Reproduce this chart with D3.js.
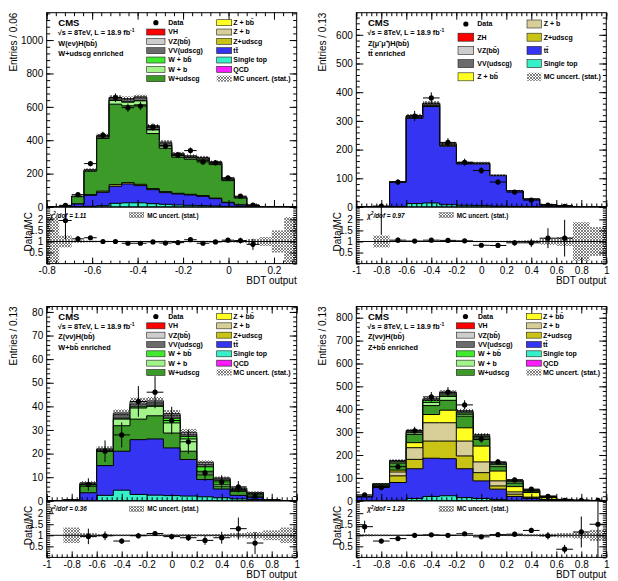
<!DOCTYPE html>
<html>
<head>
<meta charset="utf-8">
<script src="https://cdn.jsdelivr.net/npm/d3@7"></script>
<style>
  body { margin: 0; background: #fff; }
  svg { display: block; }
</style>
</head>
<body>
<svg id="chart" width="618" height="581"></svg>
<script>
// ---- W(enu)H, W+udscg enriched : 20 bins over [-0.8, 0.3]
const wenData     = [null, 10, 74, 260, 430, 655, 595, 605, 478, 365, 312, 338, 270, 265, 175, 65, 12, null, null, null];
const wenStop     = [0, 0, 2, 4, 8, 22, 25, 25, 20, 16, 12, 10, 8, 6, 4, 2, 1, 0, 0, 0];
const wenTT       = [0, 1, 16, 66, 80, 102, 113, 103, 84, 70, 66, 62, 56, 44, 22, 10, 2, 0.5, 0, 0];
const wenZudscg   = [0, 0, 0, 4, 7, 10, 8, 8, 6, 6, 4, 4, 4, 3, 2, 1, 0, 0, 0, 0];
const wenWudscg   = [1, 3, 44, 140, 315, 482, 460, 476, 330, 260, 216, 210, 210, 201, 130, 41, 6, 1.1, 0.4, 0.1];
const wenWb       = [0, 0, 1, 4, 8, 22, 22, 24, 22, 16, 8, 8, 8, 8, 5, 2, 0.5, 0.2, 0, 0];
const wenWbb      = [0, 0, 0, 1, 1, 2, 2, 2, 2, 1, 1, 1, 1, 1, 1, 0, 0, 0, 0, 0];
const wenVV       = [0, 0.5, 1, 3, 5, 14, 15, 16, 18, 14, 10, 8, 7, 6, 5, 3, 0.5, 0.2, 0, 0];
const wenVZ       = [0, 0, 0, 1, 2, 3, 5, 6, 6, 6, 4, 4, 3, 2, 2, 1, 0, 0, 0, 0];
const wenRatio    = [null, 1.95, 1.12, 1.17, 1.0, 1.0, 0.92, 0.92, 0.98, 0.93, 0.95, 1.08, 0.92, 0.98, 1.06, 1.04, 0.87, null, null, null];
const wenRatioErr = [0, 0.85, 0.13, 0.07, 0.05, 0.04, 0.04, 0.04, 0.05, 0.05, 0.06, 0.06, 0.06, 0.06, 0.08, 0.13, 0.25, 0, 0, 0];
const wenMcUnc    = [1.1, 0.27, 0.06, 0.04, 0.03, 0.02, 0.02, 0.02, 0.02, 0.03, 0.03, 0.03, 0.03, 0.03, 0.04, 0.06, 0.12, 0.2, 0.5, 1.1];

// ---- Z(mumu)H, ttbar enriched : 15 bins over [-1, 1]
const zmmData     = [null, 3, 87, 317, 380, 225, 156, 127, 87, 52, 24, 7, 2, null, null];
const zmmStop     = [0, 0, 2, 12, 14, 8, 6, 5, 3, 2, 1, 0, 0, 0, 0];
const zmmTT       = [0, 1, 84, 297, 336, 204, 144, 145, 106, 54, 26, 7, 3, 1, 0.3];
const zmmZudscg   = [0, 0, 1, 3, 4, 3, 2, 1, 1, 0, 0, 0, 0, 0, 0];
const zmmZb       = [0, 0, 1, 3, 4, 3, 1, 1, 0, 0, 0, 0, 0, 0, 0];
const zmmZbb      = [0, 0, 0, 1, 2, 1, 1, 0, 0, 0, 0, 0, 0, 0, 0];
const zmmVV       = [0, 1, 0, 1, 1, 1, 1, 1, 0, 0, 0, 0, 0, 0, 0];
const zmmVZ       = [0, 0, 0, 1, 1, 0, 0, 0, 0, 0, 0, 0, 0, 0, 0];
const zmmRatio    = [null, 3.5, 1.06, 1.02, 1.06, 1.05, 1.03, 0.83, 0.82, 0.94, 0.94, 1.15, 1.15, null, null];
const zmmRatioErr = [0, 2.2, 0.12, 0.06, 0.06, 0.07, 0.08, 0.08, 0.09, 0.13, 0.19, 0.45, 0.83, 0, 0];
const zmmMcUnc    = [0, 0.27, 0.03, 0.02, 0.02, 0.02, 0.02, 0.03, 0.03, 0.04, 0.06, 0.15, 0.2, 0.87, 0.65];

// ---- Z(nunu)H, W+bb enriched : 15 bins over [-1, 1]
const znbData     = [null, null, 6.9, 21, 27.9, 42.1, 46, 34, 25, 11.8, 8, 5.9, 2, null, null];
const znbStop     = [0, 0, 0, 2.3, 4.5, 2.7, 2.4, 2.2, 2, 1.7, 1.3, 0.8, 0.5, 0, 0];
const znbTT       = [0, 0.2, 3.4, 12.6, 16.5, 23.2, 23.8, 20.2, 15.5, 7.3, 3.7, 1.5, 1, 0.3, 0];
const znbWudscg   = [0, 0.1, 2.8, 6.1, 10.8, 8.7, 9.8, 6.3, 3.5, 2, 1.2, 1.7, 1.3, 0.1, 0];
const znbWb       = [0, 0, 0, 0, 2.8, 4.7, 4, 4.3, 5.2, 1.5, 0.8, 0.3, 0.2, 0, 0];
const znbWbb      = [0, 0, 1, 0.3, 0.4, 0.5, 0.5, 2, 1.1, 1.9, 1.7, 0.5, 0.2, 0.1, 0];
const znbVV       = [0, 0, 0.2, 0.5, 1.5, 1.2, 1, 1.3, 0.9, 1.1, 0.6, 0.4, 0.2, 0, 0];
const znbVZ       = [0, 0, 0.2, 0.2, 0.7, 1, 0.8, 0.7, 0.8, 0.8, 0.4, 0.2, 0.1, 0, 0];
const znbRatio    = [null, null, 0.95, 0.98, 0.74, 0.98, 1.08, 0.94, 0.89, 0.77, 0.89, 1.3, 0.65, null, null];
const znbRatioErr = [0, 0, 0.35, 0.2, 0.12, 0.13, 0.11, 0.13, 0.15, 0.2, 0.27, 0.5, 0.5, 0, 0];
const znbMcUnc    = [0, 0.35, 0.1, 0.05, 0.04, 0.04, 0.04, 0.04, 0.05, 0.05, 0.06, 0.1, 0.15, 0.22, 0.35];

// ---- Z(nunu)H, Z+bb enriched : 15 bins over [-1, 1]
const znzData     = [26, 58, 149, 306, 454, 475, 419, 270, 170, 91, 51, 19, 2.2, 2.3, 1.5];
const znzStop     = [0, 0, 2, 10, 19, 22, 14, 10, 5, 2, 1, 0, 0, 0, 0];
const znzTT       = [17, 62, 78, 130, 167, 162, 126, 77, 46, 17, 9, 4, 1, 0.3, 0];
const znzZudscg   = [0, 1, 29, 41, 75, 77, 56, 36, 14, 10, 3, 1, 0.5, 0.1, 0];
const znzZb       = [0, 1, 17, 51, 80, 80, 65, 47, 22, 10, 3, 1, 0.5, 0.1, 0];
const znzZbb      = [0, 1, 8, 22, 36, 55, 58, 69, 43, 23, 20, 8, 2, 0.5, 0.5];
const znzWudscg   = [1, 7, 31, 36, 39, 43, 51, 29, 19, 15, 6, 3, 1, 0.5, 0.2];
const znzWb       = [0, 1, 5, 7, 14, 17, 8, 7, 8, 6, 2, 1, 0.5, 0.2, 0.1];
const znzWbb      = [0, 1, 2, 3, 8, 6, 6, 5, 3, 3, 1, 1, 0.3, 0.1, 0.1];
const znzVV       = [2, 1, 3, 6, 6, 8, 7, 7, 5, 4, 2, 1, 0.2, 0.2, 0.1];
const znzVZ       = [0, 0, 1, 2, 2, 4, 3, 3, 2, 1, 1, 0, 0, 0, 0];
const znzRatio    = [1.39, 0.74, 0.85, 1.0, 1.02, 1.0, 1.07, 0.93, 1.03, 1.05, 1.22, 0.98, 0.37, 1.15, 1.5];
const znzRatioErr = [0.27, 0.1, 0.07, 0.06, 0.05, 0.05, 0.05, 0.06, 0.08, 0.11, 0.12, 0.17, 0.2, 0.7, 1.6];
const znzMcUnc    = [0.05, 0.04, 0.03, 0.02, 0.02, 0.02, 0.02, 0.02, 0.03, 0.04, 0.05, 0.07, 0.1, 0.15, 0.25];

const sampleColors = {
    vh: "#ff0000", vz: "#cdcdcd", vv: "#6b6b6b",
    wbb: "#40ea2e", wb: "#a2f38a", wudscg: "#3c9a28",
    zbb: "#ffff22", zb: "#d8cf98", zudscg: "#c9c316",
    tt: "#3434f2", stop: "#35f0c9", qcd: "#ff1cff"
};

const FONT = "'Liberation Sans', Arial, Helvetica, sans-serif";
const plotW = 250, mainH = 194.3, ratioH = 56.6, ratioMax = 2.56;

const svg = d3.select("#chart").attr("font-family", FONT);
const defs = svg.append("defs");

// cross hatch for the MC stat. uncertainty
const hatch = defs.append("pattern")
    .attr("id", "hatch")
    .attr("patternUnits", "userSpaceOnUse")
    .attr("width", 3)
    .attr("height", 3);
hatch.append("path")
    .attr("d", "M0,0L3,3M3,0L0,3")
    .attr("stroke", "#4a4a4a")
    .attr("stroke-width", 0.7);

function tickRange(a, b, s) {
    const out = [];
    for (let k = Math.ceil(a / s - 1e-6); k * s <= b + 1e-6; k++) out.push(+(k * s).toFixed(4));
    return out;
}
const fmt = d => String(+d.toFixed(2));

// one ROOT style axis, ticks pointing into the frame
function addAxis(gen, tx, ty, values, size, format) {
    svg.append("g")
        .attr("transform", `translate(${tx},${ty})`)
        .call(gen.tickValues(values).tickSize(-size).tickPadding(3.5).tickFormat(format || (() => "")))
        .call(s => s.select(".domain").remove())
        .attr("font-family", FONT)
        .attr("font-size", 10)
        .call(s => s.selectAll("line").attr("stroke", "#000"));
}

function legendEntry(g, boxX, boxW, boxH, textX, yc, key, label) {
    if (key === "data") {
        g.append("circle").attr("cx", boxX + boxW / 2).attr("cy", yc).attr("r", 2.6).attr("fill", "#000");
    } else {
        g.append("rect")
            .attr("x", boxX).attr("y", yc - boxH / 2)
            .attr("width", boxW).attr("height", boxH)
            .attr("fill", key === "unc" ? "url(#hatch)" : sampleColors[key])
            .attr("stroke", key === "unc" ? "none" : "#222")
            .attr("stroke-width", 0.6);
    }
    g.append("text")
        .attr("x", textX).attr("y", yc)
        .attr("dy", "0.35em")
        .attr("font-size", 7)
        .attr("font-weight", "bold")
        .text(label);
}

function drawPanel(p) {
    const n = p.data.length;
    const x = d3.scaleLinear().domain(p.xDomain).range([p.left, p.left + plotW]);
    const y = d3.scaleLinear().domain([0, p.yMax]).range([p.top + mainH, p.top]);
    const rTop = p.top + mainH, rBot = rTop + ratioH;
    const yr = d3.scaleLinear().domain([0, ratioMax]).range([rBot, rTop]);
    const w = (p.xDomain[1] - p.xDomain[0]) / n;
    const edges = d3.range(n + 1).map(i => p.xDomain[0] + i * w);
    const centers = d3.range(n).map(i => p.xDomain[0] + (i + 0.5) * w);

    defs.append("clipPath").attr("id", "cm" + p.id)
        .append("rect").attr("x", p.left).attr("y", p.top).attr("width", plotW).attr("height", mainH);
    defs.append("clipPath").attr("id", "cr" + p.id)
        .append("rect").attr("x", p.left).attr("y", rTop).attr("width", plotW).attr("height", ratioH);

    // cumulative stack, bottom sample first
    let run = d3.range(n).map(() => 0);
    const layers = p.stack.map(([key, vals]) => {
        run = run.map((c, i) => c + vals[i]);
        return { key, top: run.slice() };
    });
    const total = run;

    const stepPts = top => d3.range(n).flatMap(i => [[edges[i], top[i]], [edges[i + 1], top[i]]]);
    const area = d3.area().x(d => x(d[0])).y0(y(0)).y1(d => y(d[1]));
    const outline = d3.line().x(d => x(d[0])).y(d => y(d[1]));

    const main = svg.append("g").attr("clip-path", `url(#cm${p.id})`);
    layers.slice().reverse().forEach(l => {
        const pts = stepPts(l.top);
        main.append("path").attr("d", area(pts)).attr("fill", sampleColors[l.key]);
        main.append("path")
            .attr("d", outline([[edges[0], 0], ...pts, [edges[n], 0]]))
            .attr("fill", "none")
            .attr("stroke", "#000")
            .attr("stroke-width", 1);
    });

    // MC stat. band on top of the stack
    main.selectAll(null)
        .data(d3.range(n).filter(i => total[i] > 0))
        .enter().append("rect")
        .attr("x", i => x(edges[i]))
        .attr("width", i => x(edges[i + 1]) - x(edges[i]))
        .attr("y", i => y(total[i] * (1 + p.mcUnc[i])))
        .attr("height", i => y(total[i] * (1 - p.mcUnc[i])) - y(total[i] * (1 + p.mcUnc[i])))
        .attr("fill", "url(#hatch)");

    // data points
    const dIdx = d3.range(n).filter(i => p.data[i] != null);
    const dg = svg.append("g").attr("clip-path", `url(#cm${p.id})`);
    dIdx.forEach(i => {
        const v = p.data[i], e = Math.sqrt(v);
        dg.append("line").attr("x1", x(centers[i])).attr("x2", x(centers[i]))
            .attr("y1", y(Math.max(v - e, 0))).attr("y2", y(v + e))
            .attr("stroke", "#000").attr("stroke-width", 1);
        dg.append("line").attr("x1", x(edges[i])).attr("x2", x(edges[i + 1]))
            .attr("y1", y(v)).attr("y2", y(v))
            .attr("stroke", "#000").attr("stroke-width", 1);
        dg.append("circle").attr("cx", x(centers[i])).attr("cy", y(v)).attr("r", 2.6).attr("fill", "#000");
    });

    // ratio panel
    const rg = svg.append("g").attr("clip-path", `url(#cr${p.id})`);
    rg.selectAll(null)
        .data(d3.range(n).filter(i => p.mcUnc[i] > 0))
        .enter().append("rect")
        .attr("x", i => x(edges[i]))
        .attr("width", i => x(edges[i + 1]) - x(edges[i]))
        .attr("y", i => yr(1 + p.mcUnc[i]))
        .attr("height", i => yr(1 - p.mcUnc[i]) - yr(1 + p.mcUnc[i]))
        .attr("fill", "url(#hatch)");
    rg.append("line")
        .attr("x1", p.left).attr("x2", p.left + plotW)
        .attr("y1", yr(1)).attr("y2", yr(1))
        .attr("stroke", "#000").attr("stroke-width", 1);
    d3.range(n).filter(i => p.ratio[i] != null).forEach(i => {
        const v = p.ratio[i], e = p.ratioErr[i];
        rg.append("line").attr("x1", x(centers[i])).attr("x2", x(centers[i]))
            .attr("y1", yr(v - e)).attr("y2", yr(v + e))
            .attr("stroke", "#000").attr("stroke-width", 1);
        rg.append("line").attr("x1", x(edges[i])).attr("x2", x(edges[i + 1]))
            .attr("y1", yr(v)).attr("y2", yr(v))
            .attr("stroke", "#000").attr("stroke-width", 1);
        rg.append("circle").attr("cx", x(centers[i])).attr("cy", yr(v)).attr("r", 2.6).attr("fill", "#000");
    });

    // frames
    svg.append("rect").attr("x", p.left).attr("y", p.top).attr("width", plotW).attr("height", mainH)
        .attr("fill", "none").attr("stroke", "#000").attr("stroke-width", 1);
    svg.append("rect").attr("x", p.left).attr("y", rTop).attr("width", plotW).attr("height", ratioH)
        .attr("fill", "none").attr("stroke", "#000").attr("stroke-width", 1);

    // axes, main pad
    const xMaj = tickRange(p.xDomain[0], p.xDomain[1], 0.2);
    const xMin = tickRange(p.xDomain[0], p.xDomain[1], 0.04);
    const yMaj = tickRange(0, p.yMax, p.yStep);
    const yMin = tickRange(0, p.yMax, p.yStep / 5);
    addAxis(d3.axisLeft(y), p.left, 0, yMaj, 7, fmt);
    addAxis(d3.axisLeft(y), p.left, 0, yMin, 3.5);
    addAxis(d3.axisRight(y), p.left + plotW, 0, yMaj, 7);
    addAxis(d3.axisRight(y), p.left + plotW, 0, yMin, 3.5);
    addAxis(d3.axisBottom(x), 0, rTop, xMaj, 7);
    addAxis(d3.axisBottom(x), 0, rTop, xMin, 3.5);
    addAxis(d3.axisTop(x), 0, p.top, xMaj, 7);
    addAxis(d3.axisTop(x), 0, p.top, xMin, 3.5);

    // axes, ratio pad
    const rMaj = [0.5, 1, 1.5, 2];
    const rMin = tickRange(0, ratioMax, 0.1);
    addAxis(d3.axisLeft(yr), p.left, 0, rMaj, 7, fmt);
    addAxis(d3.axisLeft(yr), p.left, 0, rMin, 3.5);
    addAxis(d3.axisRight(yr), p.left + plotW, 0, rMaj, 7);
    addAxis(d3.axisRight(yr), p.left + plotW, 0, rMin, 3.5);
    addAxis(d3.axisBottom(x), 0, rBot, xMaj, 6, fmt);
    addAxis(d3.axisBottom(x), 0, rBot, xMin, 3);

    // axis titles
    svg.append("text")
        .attr("transform", `translate(${p.left - 30},${p.top}) rotate(-90)`)
        .attr("text-anchor", "end").attr("font-size", 10)
        .text(p.yTitle);
    svg.append("text")
        .attr("transform", `translate(${p.left - 15},${rTop + 5}) rotate(-90)`)
        .attr("text-anchor", "end").attr("font-size", 10)
        .text("Data/MC");
    svg.append("text")
        .attr("x", p.left + plotW).attr("y", rBot + 20.5)
        .attr("text-anchor", "end").attr("font-size", 10)
        .text("BDT output");

    // CMS label block
    const tg = svg.append("g").attr("font-weight", "bold");
    tg.append("text").attr("x", p.left + 11.6).attr("y", p.top + 13.2).attr("font-size", 9.5).text("CMS");
    const lumi = tg.append("text").attr("x", p.left + 11).attr("y", p.top + 22.5).attr("font-size", 7.3);
    lumi.append("tspan").text("\u221As =  8TeV, L = 18.9 fb");
    lumi.append("tspan").attr("dy", -3).attr("font-size", 5).text("-1");
    tg.append("text").attr("x", p.left + 11.6).attr("y", p.top + 32.8).attr("font-size", 7.3).text(p.channel);
    tg.append("text").attr("x", p.left + 11.6).attr("y", p.top + 43.2).attr("font-size", 7.3).text(p.region);

    // legend
    const lg = svg.append("g");
    const L = p.legend;
    L.col1.forEach(([key, label], r) =>
        legendEntry(lg, p.left + L.b1, L.w1, L.bh, p.left + L.t1, p.top + L.y0 + r * L.dy, key, label));
    L.col2.forEach(([key, label], r) =>
        legendEntry(lg, p.left + L.b2, L.w2, L.bh, p.left + L.t2, p.top + L.y0 + r * L.dy, key, label));

    // chi2 and ratio legend
    const chi = svg.append("text")
        .attr("x", p.left + p.chiX).attr("y", rTop + 10.5)
        .attr("font-size", 6.3).attr("font-weight", "bold").attr("font-style", "italic");
    chi.append("tspan").text("\u03C7");
    chi.append("tspan").attr("dy", -2.5).attr("font-size", 4.5).text("2");
    chi.append("tspan").attr("dy", 2.5).text("/dof = " + p.chi2);
    svg.append("rect")
        .attr("x", p.left + 82.8).attr("y", rTop + 5.6)
        .attr("width", 14.3).attr("height", 5)
        .attr("fill", "url(#hatch)")
        .attr("stroke", "#555").attr("stroke-width", 0.4);
    svg.append("text")
        .attr("x", p.left + 100.5).attr("y", rTop + 10.5)
        .attr("font-size", 6.3).attr("font-weight", "bold")
        .text("MC uncert. (stat.)");
}

const bbar = "bb\u0304";
const legendW = {
    col1: [["data", "Data"], ["vh", "VH"], ["vz", "VZ(" + bbar + ")"], ["vv", "VV(udscg)"],
           ["wbb", "W + " + bbar], ["wb", "W + b"], ["wudscg", "W+udscg"]],
    col2: [["zbb", "Z + " + bbar], ["zb", "Z + b"], ["zudscg", "Z+udscg"], ["tt", "tt\u0304"],
           ["stop", "Single top"], ["qcd", "QCD"], ["unc", "MC uncert. (stat.)"]],
    b1: 100, w1: 18.3, t1: 121.6, b2: 170, w2: 15, t2: 186.6, y0: 10, dy: 9.33, bh: 6
};
const legendZ = {
    col1: [["data", "Data"], ["vh", "ZH"], ["vz", "VZ(" + bbar + ")"], ["vv", "VV(udscg)"], ["zbb", "Z + " + bbar]],
    col2: [["zb", "Z + b"], ["zudscg", "Z+udscg"], ["tt", "tt\u0304"], ["stop", "Single top"], ["unc", "MC uncert. (stat.)"]],
    b1: 101.7, w1: 15.7, t1: 121, b2: 170.7, w2: 14.3, t2: 187.4, y0: 11.3, dy: 13.2, bh: 8
};

drawPanel({
    id: 1, left: 46.7, top: 12.7, xDomain: [-0.8, 0.3], yMax: 1164, yStep: 200,
    yTitle: "Entries / 0.06", channel: "W(e\u03BD)H(" + bbar + ")", region: "W+udscg enriched",
    stack: [["stop", wenStop], ["tt", wenTT], ["zudscg", wenZudscg], ["wudscg", wenWudscg],
            ["wb", wenWb], ["wbb", wenWbb], ["vv", wenVV], ["vz", wenVZ]],
    data: wenData, ratio: wenRatio, ratioErr: wenRatioErr, mcUnc: wenMcUnc,
    legend: legendW, chi2: "1.11", chiX: 3
});
drawPanel({
    id: 2, left: 356.3, top: 12.7, xDomain: [-1, 1], yMax: 677, yStep: 100,
    yTitle: "Entries / 0.13", channel: "Z(\u03BC\u207B\u03BC\u207A)H(" + bbar + ")", region: "tt\u0304 enriched",
    stack: [["stop", zmmStop], ["tt", zmmTT], ["zudscg", zmmZudscg], ["zb", zmmZb], ["zbb", zmmZbb],
            ["vv", zmmVV], ["vz", zmmVZ]],
    data: zmmData, ratio: zmmRatio, ratioErr: zmmRatioErr, mcUnc: zmmMcUnc,
    legend: legendZ, chi2: "0.97", chiX: 11
});
drawPanel({
    id: 3, left: 46.7, top: 306.5, xDomain: [-1, 1], yMax: 82.3, yStep: 10,
    yTitle: "Entries / 0.13", channel: "Z(\u03BD\u03BD)H(" + bbar + ")", region: "W+" + bbar + " enriched",
    stack: [["stop", znbStop], ["tt", znbTT], ["wudscg", znbWudscg], ["wb", znbWb], ["wbb", znbWbb],
            ["vv", znbVV], ["vz", znbVZ]],
    data: znbData, ratio: znbRatio, ratioErr: znbRatioErr, mcUnc: znbMcUnc,
    legend: legendW, chi2: "0.36", chiX: 3
});
drawPanel({
    id: 4, left: 356.3, top: 306.5, xDomain: [-1, 1], yMax: 849, yStep: 100,
    yTitle: "Entries / 0.13", channel: "Z(\u03BD\u03BD)H(" + bbar + ")", region: "Z+" + bbar + " enriched",
    stack: [["stop", znzStop], ["tt", znzTT], ["zudscg", znzZudscg], ["zb", znzZb], ["zbb", znzZbb],
            ["wudscg", znzWudscg], ["wb", znzWb], ["wbb", znzWbb], ["vv", znzVV], ["vz", znzVZ]],
    data: znzData, ratio: znzRatio, ratioErr: znzRatioErr, mcUnc: znzMcUnc,
    legend: legendW, chi2: "1.23", chiX: 11
});
</script>
</body>
</html>
